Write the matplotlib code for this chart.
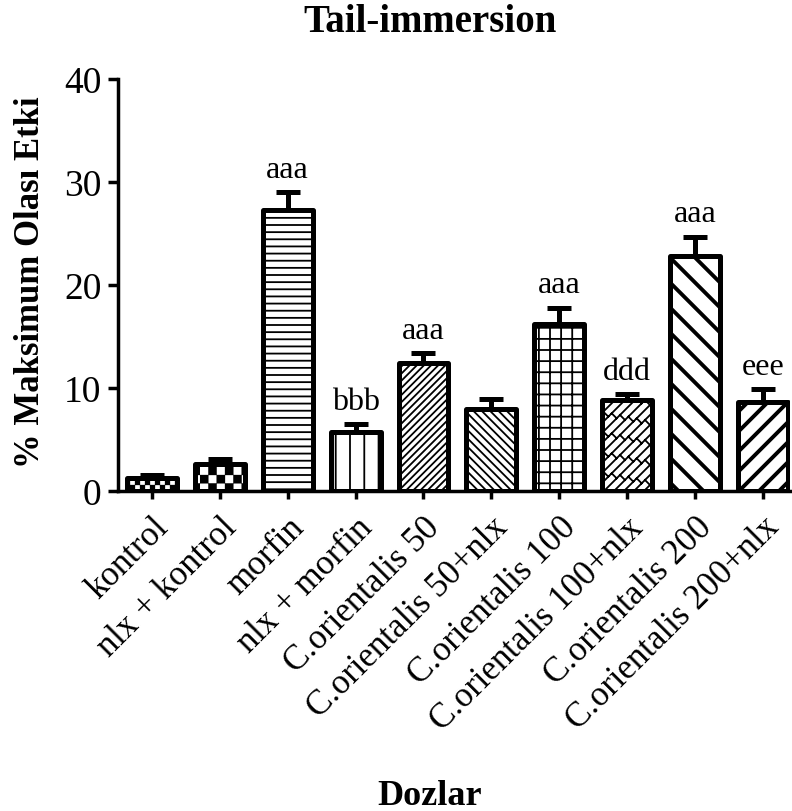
import warnings
import numpy as np
import matplotlib
matplotlib.use("Agg")
import matplotlib.pyplot as plt
from matplotlib import hatch as mhatch
from matplotlib.path import Path

warnings.filterwarnings("ignore")

# ---- data -------------------------------------------------------------
groups = ["kontrol", "nlx + kontrol", "morfin", "nlx + morfin",
          "C.orientalis 50", "C.orientalis 50+nlx", "C.orientalis 100",
          "C.orientalis 100+nlx", "C.orientalis 200", "C.orientalis 200+nlx"]
means = [1.3, 2.6, 27.3, 5.7, 12.4, 8.0, 16.2, 8.8, 22.8, 8.6]
sems = [0.3, 0.5, 1.7, 0.8, 1.0, 0.9, 1.6, 0.6, 1.9, 1.3]
marks = ["", "", "aaa", "bbb", "aaa", "", "aaa", "ddd", "aaa", "eee"]
yticks = [0, 10, 20, 30, 40]


# ---- custom hatch fills (unit cell = 1 x 1) ---------------------------
def _register(key, builder, closed=False):
    class _Pattern(mhatch.HatchPatternBase):
        def __init__(self, hatch, density):
            self.shapes = builder() if (hatch and key in hatch) else []
            self.num_vertices = sum(len(s) for s in self.shapes)

        def set_vertices_and_codes(self, vertices, codes):
            i = 0
            for s in self.shapes:
                n = len(s)
                vertices[i:i + n] = s
                codes[i] = Path.MOVETO
                codes[i + 1:i + n] = Path.LINETO
                if closed:
                    codes[i + n - 1] = Path.CLOSEPOLY
                i += n

    mhatch._hatch_types.append(_Pattern)


def checker(n):
    def build():
        out = []
        for i in range(n):
            for j in range(n):
                if (i + j) % 2 == 0:
                    x0, x1, y0, y1 = i / n, (i + 1) / n, j / n, (j + 1) / n
                    out.append([(x0, y0), (x1, y0), (x1, y1), (x0, y1), (x0, y0)])
        return out
    return build


def hlines(n):
    return lambda: [[(0, (k + .5) / n), (1, (k + .5) / n)] for k in range(n)]


def vlines(n):
    return lambda: [[((k + .5) / n, 0), ((k + .5) / n, 1)] for k in range(n)]


def grid(n):
    return lambda: hlines(n)() + vlines(n)()


def rising(n):
    return lambda: [[(0, (k + .5) / n), (1, 1 + (k + .5) / n)]
                    for k in range(-n - 1, n + 1)]


def falling(n):
    return lambda: [[(0, (k + .5) / n), (1, (k + .5) / n - 1)]
                    for k in range(0, 2 * n + 1)]


def bricks(n, m):
    def build():
        out = []
        d = 0.5 / n
        for k in range(-n - 1, n + 1):
            c = (k + .5) / n
            out.append([(0, c), (1, 1 + c)])
            for j in range(-m, 2 * m + 1):
                x = j / m + (k % 2) * 0.5 / m
                if -0.2 < x < 1.2 and -0.2 < x + c < 1.2:
                    out.append([(x, x + c), (x - d, x + c + d)])
        return out
    return build


_register("a", checker(20), closed=True)
_register("b", checker(12), closed=True)
_register("c", hlines(14))
_register("d", vlines(7))
_register("e", rising(14))
_register("f", falling(12))
_register("g", grid(9))
_register("h", bricks(10, 6))
_register("i", falling(4))
_register("j", rising(5))

fills = ["a", "b", "c", "d", "e", "f", "g", "h", "i", "j"]
fill_lw = [0.2, 0.2, 1.3, 1.3, 1.3, 1.3, 1.3, 1.3, 2.8, 2.8]

# ---- figure -----------------------------------------------------------
plt.rcParams["font.family"] = ["Liberation Serif", "DejaVu Serif"]
plt.rcParams["hatch.linewidth"] = 1.3

fig = plt.figure(figsize=(7.92, 8.12), dpi=100)
ax = fig.add_axes([118 / 792, 1 - 492 / 812, 672 / 792, 412 / 812])

x = np.arange(len(groups))
lower = np.zeros(len(sems))
ax.errorbar(x, means, yerr=[lower, sems], fmt="none", ecolor="black",
            elinewidth=3.6, capsize=8.5, capthick=3.6, zorder=1)
bars = ax.bar(x, means, width=0.735, color="white", edgecolor="black",
              linewidth=3.6, zorder=2)
for b, f, lw in zip(bars, fills, fill_lw):
    b.set_hatch(f)
    b.set_joinstyle("round")
    if hasattr(b, "set_hatch_linewidth"):
        b.set_hatch_linewidth(lw)

for xi, m, e, t in zip(x, means, sems, marks):
    if t:
        ax.annotate(t, (xi, m + e), xytext=(0, 11), textcoords="offset points",
                    ha="center", va="baseline", fontsize=23)

ax.set_xlim(-0.5, 9.4)
ax.set_ylim(0, 40)
ax.set_yticks(yticks)
ax.set_xticks(x)
ax.set_xticklabels(groups, rotation=45, ha="right", rotation_mode="anchor",
                   fontsize=25)
ax.tick_params(axis="y", labelsize=27, width=2.5, length=7, pad=5)
ax.tick_params(axis="x", width=2.5, length=6, pad=8)
for side in ("top", "right"):
    ax.spines[side].set_visible(False)
for side in ("left", "bottom"):
    ax.spines[side].set_linewidth(2.5)

ax.set_ylabel("% Maksimum Olası Etki", fontsize=25, fontweight="bold")
ax.yaxis.set_label_coords(-0.106, 0.51)
ax.set_xlabel("Dozlar", fontsize=26, fontweight="bold")
ax.xaxis.set_label_coords(0.464, -0.699)
ax.set_title("Tail-immersion", fontsize=28, fontweight="bold",
             x=0.464, y=1.117, pad=0)

fig.savefig("out.png", dpi=100)
